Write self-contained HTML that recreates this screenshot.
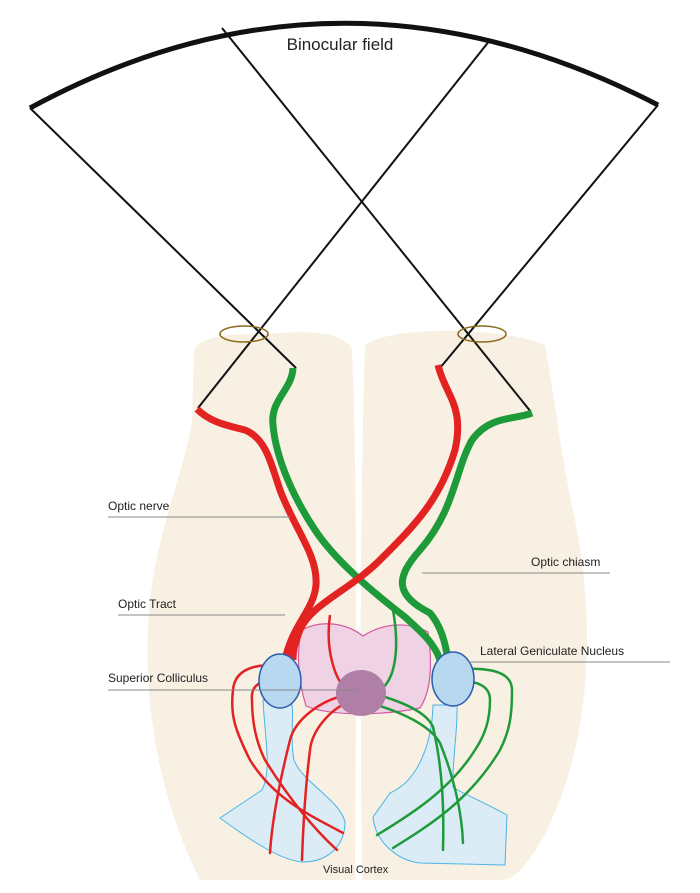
<!DOCTYPE html>
<html><head><meta charset="utf-8"><style>
html,body{margin:0;padding:0;background:#fff}
svg{display:block}
text{font-family:"Liberation Sans",sans-serif;fill:#222}
</style></head><body>
<svg width="700" height="893" viewBox="0 0 700 893">
<g>
<path fill="#f8f0e3" d="M194,350 C200,335 240,333 260,335 C300,330 345,330 352,350 C358,500 356,700 355,880 L200,880 C160,800 140,700 150,600 C160,520 185,470 192,420 Z"/>
<path fill="#f8f0e3" d="M365,345 C390,326 500,326 545,345 C555,400 560,450 575,520 C595,620 590,720 560,800 C540,850 520,880 500,880 L362,880 C360,700 360,500 365,345 Z"/>
</g>
<path d="M302,630 C320,620 345,622 363,636 C385,622 410,622 428,632 C432,660 432,690 420,708 C380,716 330,716 306,706 C298,680 296,650 302,630 Z" fill="#efd2e3" stroke="#d45aa0" stroke-width="1.2"/>
<g fill="#dcecf6" stroke="#4ab4e6" stroke-width="1">
<path d="M263,700 C265,740 272,770 262,790 L220,818 C250,840 280,860 302,862 C332,862 345,842 345,822 C340,800 302,782 294,760 C290,740 294,715 292,705 Z"/>
<path d="M433,705 C432,740 420,780 390,793 L373,817 C375,840 395,860 420,863 L505,865 L507,815 C480,800 455,790 453,787 C452,760 458,730 457,705 Z"/>
</g>
<g stroke="#111" fill="none">
<path d="M30,108 Q340,-60 658,105" stroke-width="5"/>
<line x1="30" y1="108" x2="296" y2="368" stroke-width="2"/>
<line x1="198" y1="408" x2="490" y2="40" stroke-width="2"/>
<line x1="222" y1="28" x2="531" y2="412" stroke-width="2"/>
<line x1="658" y1="105" x2="440" y2="368" stroke-width="2"/>
</g>
<ellipse cx="244" cy="334" rx="24" ry="8" fill="none" stroke="#8a6a1a" stroke-width="1.5"/>
<ellipse cx="482" cy="334" rx="24" ry="8" fill="none" stroke="#8a6a1a" stroke-width="1.5"/>
<g fill="none" stroke-width="7" stroke-linecap="butt">
<path stroke="#1f9a3a" d="M293,368 C292,390 270,400 273,425 C276,460 295,500 315,530 C335,560 370,590 405,617 C425,635 435,645 440,660"/>
<path stroke="#1f9a3a" d="M532,413 C515,420 490,415 472,440 C455,470 455,510 420,550 C395,578 395,595 430,613 C440,625 445,640 448,660"/>
<path stroke="#e32222" d="M197,409 C210,422 225,425 245,430 C265,438 270,460 280,490 C295,530 318,555 316,585 C314,610 292,625 285,660"/>
<path stroke="#e32222" d="M438,365 C445,395 465,405 455,450 C440,500 415,525 380,560 C350,590 310,605 300,630 C294,645 293,652 293,660"/>
</g>
<g fill="none" stroke-width="2.5">
<path stroke="#e32222" d="M330,615 C325,650 335,680 347,690"/>
<path stroke="#1f9a3a" d="M393,610 C400,650 395,680 380,690"/>
</g>
<g fill="none" stroke-width="2.5" stroke-linecap="round">
<g stroke="#e32222">
<path d="M288,668 C265,662 235,665 233,690 C230,715 235,730 250,760 C275,800 310,815 343,833"/>
<path d="M285,683 C270,678 250,680 252,700 C252,720 255,740 265,760 C290,800 315,830 337,850"/>
<path d="M347,695 C320,700 295,720 290,740 C280,780 272,820 270,853"/>
<path d="M348,702 C330,710 312,730 310,750 C305,790 303,830 302,860"/>
</g>
<g stroke="#1f9a3a">
<path d="M458,669 C480,668 512,668 512,690 C512,715 510,730 500,750 C470,800 430,825 393,848"/>
<path d="M457,682 C475,680 490,685 490,700 C490,720 485,735 475,750 C450,790 410,815 377,835"/>
<path d="M385,697 C410,705 428,715 433,727 C443,770 444,810 443,850"/>
<path d="M377,705 C400,712 430,725 440,743 C455,780 462,815 463,843"/>
</g>
</g>
<ellipse cx="361" cy="693" rx="25" ry="23" fill="#b07fa8"/>
<ellipse cx="280" cy="681" rx="21" ry="27" fill="#b8d8f0" stroke="#2a5fb0" stroke-width="1.5"/>
<ellipse cx="453" cy="679" rx="21" ry="27" fill="#b8d8f0" stroke="#2a5fb0" stroke-width="1.5"/>
<g font-size="12" stroke="#888" stroke-width="1">
<text x="340" y="50" font-size="17" text-anchor="middle" stroke="none">Binocular field</text>
<text x="108" y="510" stroke="none">Optic nerve</text>
<line x1="108" y1="517" x2="290" y2="517"/>
<text x="118" y="608" stroke="none">Optic Tract</text>
<line x1="118" y1="615" x2="285" y2="615"/>
<text x="108" y="682" stroke="none">Superior Colliculus</text>
<line x1="108" y1="690" x2="358" y2="690"/>
<text x="531" y="566" stroke="none">Optic chiasm</text>
<line x1="422" y1="573" x2="610" y2="573"/>
<text x="480" y="655" stroke="none">Lateral Geniculate Nucleus</text>
<line x1="468" y1="662" x2="670" y2="662"/>
<text x="323" y="873" font-size="11" stroke="none">Visual Cortex</text>
</g>
</svg>
</body></html>
